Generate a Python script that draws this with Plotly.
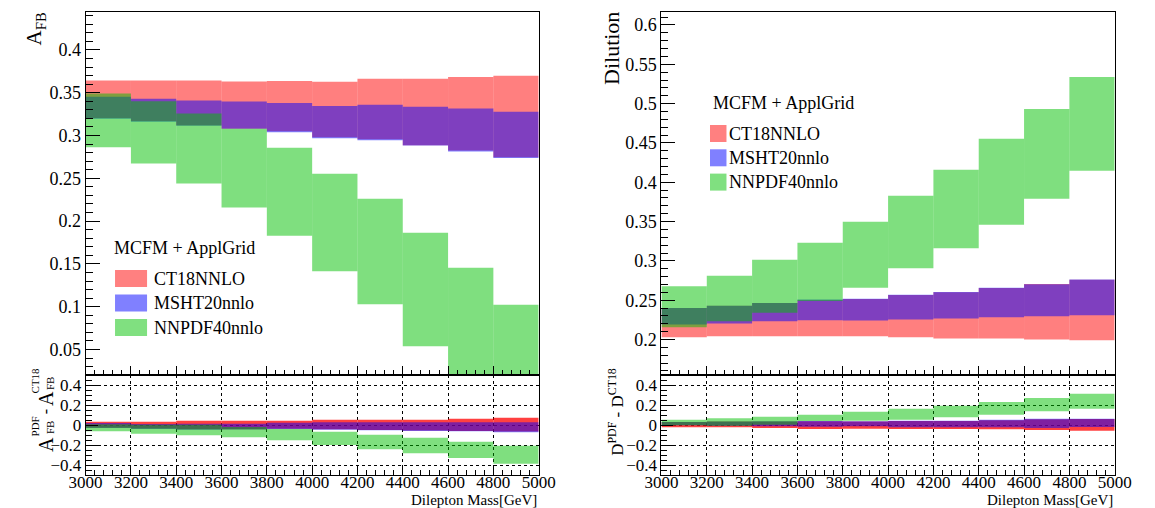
import plotly.graph_objects as go

# ---------------- data ----------------
mass_edges = [3000, 3200, 3400, 3600, 3800, 4000, 4200, 4400, 4600, 4800, 5000]
x_tick_labels = ["3000", "3200", "3400", "3600", "3800", "4000", "4200", "4400", "4600", "4800", "5000"]
pdf_names = ["CT18NNLO", "MSHT20nnlo", "NNPDF40nnlo"]

# A_FB bands (upper / lower edges)
afb_ct18_hi = [0.3644, 0.3644, 0.3644, 0.3632, 0.3638, 0.3627, 0.3662, 0.3662, 0.3685, 0.3697]
afb_ct18_lo = [0.3205, 0.3170, 0.3120, 0.3080, 0.3050, 0.2980, 0.2955, 0.2885, 0.2825, 0.2745]
afb_msht_hi = [0.3453, 0.3430, 0.3410, 0.3398, 0.3381, 0.3346, 0.3358, 0.3335, 0.3315, 0.3277]
afb_msht_lo = [0.3195, 0.3160, 0.3113, 0.3078, 0.3039, 0.2969, 0.2946, 0.2884, 0.2814, 0.2736]
afb_nnpdf_hi = [0.3490, 0.3400, 0.3257, 0.3078, 0.2857, 0.2553, 0.2261, 0.1865, 0.1456, 0.1024]
afb_nnpdf_lo = [0.2862, 0.2673, 0.2440, 0.2160, 0.1829, 0.1413, 0.1028, 0.0538, -0.0100, -0.0700]

# A_FB^PDF - A_FB^CT18
dafb_ct18_hi = [0.033, 0.033, 0.043, 0.043, 0.043, 0.053, 0.053, 0.053, 0.063, 0.073]
dafb_ct18_lo = [-0.028, -0.035, -0.042, -0.042, -0.037, -0.043, -0.050, -0.056, -0.060, -0.066]
dafb_msht_hi = [0.020, 0.010, 0.013, 0.013, 0.023, 0.027, 0.027, 0.027, 0.027, 0.027]
dafb_msht_lo = [-0.030, -0.040, -0.047, -0.045, -0.040, -0.047, -0.053, -0.060, -0.063, -0.073]
dafb_nnpdf_hi = [0.008, 0.003, 0.003, -0.020, -0.040, -0.067, -0.097, -0.127, -0.167, -0.207]
dafb_nnpdf_lo = [-0.063, -0.087, -0.103, -0.123, -0.153, -0.200, -0.243, -0.283, -0.330, -0.387]

# Dilution bands
dil_ct18_hi = [0.2402, 0.2431, 0.2466, 0.2500, 0.2515, 0.2565, 0.2600, 0.2655, 0.2705, 0.2760]
dil_ct18_lo = [0.2029, 0.2042, 0.2042, 0.2042, 0.2042, 0.2029, 0.2013, 0.2013, 0.2000, 0.1991]
dil_msht_hi = [0.2402, 0.2431, 0.2466, 0.2508, 0.2520, 0.2571, 0.2605, 0.2660, 0.2702, 0.2762]
dil_msht_lo = [0.2190, 0.2203, 0.2232, 0.2245, 0.2241, 0.2254, 0.2267, 0.2284, 0.2296, 0.2309]
dil_nnpdf_hi = [0.2677, 0.2812, 0.3016, 0.3232, 0.3498, 0.3828, 0.4159, 0.4552, 0.4933, 0.5340]
dil_nnpdf_lo = [0.2156, 0.2232, 0.2339, 0.2490, 0.2660, 0.2906, 0.3160, 0.3460, 0.3790, 0.4146]

# D^PDF - D^CT18
ddil_ct18_hi = [0.030, 0.035, 0.035, 0.037, 0.035, 0.040, 0.040, 0.048, 0.058, 0.060]
ddil_ct18_lo = [-0.023, -0.023, -0.030, -0.040, -0.037, -0.040, -0.040, -0.043, -0.050, -0.057]
ddil_msht_hi = [0.030, 0.035, 0.037, 0.040, 0.037, 0.043, 0.043, 0.053, 0.063, 0.063]
ddil_msht_lo = [-0.003, -0.007, -0.013, -0.017, -0.013, -0.023, -0.023, -0.023, -0.030, -0.020]
ddil_nnpdf_hi = [0.053, 0.067, 0.083, 0.103, 0.133, 0.163, 0.193, 0.230, 0.270, 0.313]
ddil_nnpdf_lo = [-0.003, -0.007, 0.003, 0.040, 0.043, 0.053, 0.077, 0.103, 0.137, 0.163]

# ---------------- style ----------------
W, H = 1155, 508
FONT = "Liberation Serif"
RED = "rgba(255,0,0,0.5)"
RED_R = "rgba(255,0,0,0.75)"
BLUE = "rgba(0,0,255,0.5)"
GREEN = "rgba(0,192,0,0.5)"
LEG_COLORS = ["#ff8080", "#8080ff", "#80e080"]

centers = [(a + b) / 2 for a, b in zip(mass_edges[:-1], mass_edges[1:])]
widths = [b - a for a, b in zip(mass_edges[:-1], mass_edges[1:])]


def px(p):
    return p / W


def py(p):
    return 1 - p / H


fig = go.Figure()


def band(lo, hi, color, xa, ya):
    fig.add_trace(go.Bar(
        x=centers, y=[h - l for h, l in zip(hi, lo)], base=lo, width=widths,
        marker=dict(color=color, line=dict(width=0)),
        xaxis=xa, yaxis=ya, showlegend=False, hoverinfo="skip"))


band(afb_ct18_lo, afb_ct18_hi, RED, "x", "y")
band(afb_msht_lo, afb_msht_hi, BLUE, "x", "y")
band(afb_nnpdf_lo, afb_nnpdf_hi, GREEN, "x", "y")
band(dafb_ct18_lo, dafb_ct18_hi, RED_R, "x2", "y2")
band(dafb_msht_lo, dafb_msht_hi, BLUE, "x2", "y2")
band(dafb_nnpdf_lo, dafb_nnpdf_hi, GREEN, "x2", "y2")
band(dil_ct18_lo, dil_ct18_hi, RED, "x3", "y3")
band(dil_msht_lo, dil_msht_hi, BLUE, "x3", "y3")
band(dil_nnpdf_lo, dil_nnpdf_hi, GREEN, "x3", "y3")
band(ddil_ct18_lo, ddil_ct18_hi, RED_R, "x4", "y4")
band(ddil_msht_lo, ddil_msht_hi, BLUE, "x4", "y4")
band(ddil_nnpdf_lo, ddil_nnpdf_hi, GREEN, "x4", "y4")

# invisible carriers for the tick-label axes
for xa, ya in (("x5", "y2"), ("x6", "y4")):
    fig.add_trace(go.Scatter(x=[mass_edges[0]], y=[0], mode="markers", marker=dict(opacity=0),
                             xaxis=xa, yaxis=ya, showlegend=False, hoverinfo="skip"))

L_DOM = [px(70.7), px(537.5)]
R_DOM = [px(664), px(1131)]
TOP_DOM = [py(375), py(12)]
RAT_DOM = [py(475), py(375)]


def xaxis(domain, anchor, grid):
    d = dict(domain=domain, anchor=anchor, range=[mass_edges[0], mass_edges[-1]],
             showline=True, linecolor="black", linewidth=1, mirror=True,
             ticks="inside", ticklen=9, tickcolor="black", tickwidth=1,
             tickvals=mass_edges, ticktext=x_tick_labels,
             minor=dict(ticks="inside", ticklen=5, dtick=40, tickcolor="black", showgrid=False),
             zeroline=False, showticklabels=False)
    if grid:
        d.update(showgrid=True, gridcolor="black", griddash="dot", gridwidth=1)
    else:
        d.update(showgrid=False)
    return d


def label_axis(domain, over):
    return dict(domain=domain, overlaying=over, anchor="free", position=py(470), side="bottom",
                range=[mass_edges[0], mass_edges[-1]], showline=False, ticks="",
                showgrid=False, zeroline=False, tickvals=mass_edges, ticktext=x_tick_labels,
                tickfont=dict(family=FONT, size=17, color="black"))


def yaxis(domain, anchor, rng, dtick, minor, ticklen, size, grid):
    d = dict(domain=domain, anchor=anchor, range=rng,
             showline=True, linecolor="black", linewidth=1, mirror=True,
             ticks="inside", ticklen=ticklen, tickcolor="black", tickwidth=1,
             tick0=0, dtick=dtick,
             minor=dict(ticks="inside", ticklen=ticklen // 2, dtick=minor, tickcolor="black", showgrid=False),
             zeroline=False, tickfont=dict(family=FONT, size=size, color="black"))
    if grid:
        d.update(showgrid=True, gridcolor="black", griddash="dot", gridwidth=1)
    else:
        d.update(showgrid=False)
    return d


fig.update_layout(
    width=W, height=H, margin=dict(l=0, r=0, t=0, b=0),
    paper_bgcolor="white", plot_bgcolor="white", barmode="overlay",
    showlegend=False, font=dict(family=FONT, color="black"),
    xaxis=xaxis(L_DOM, "y", False),
    yaxis=yaxis(TOP_DOM, "x", [0.0202, 0.4443], 0.05, 0.01, 14, 18, False),
    xaxis2=xaxis(L_DOM, "y2", True),
    yaxis2=yaxis(RAT_DOM, "x2", [-0.5, 0.5], 0.2, 0.05, 12, 17, True),
    xaxis3=xaxis(R_DOM, "y3", False),
    yaxis3=yaxis(TOP_DOM, "x3", [0.1549, 0.6165], 0.05, 0.01, 14, 18, False),
    xaxis4=xaxis(R_DOM, "y4", True),
    yaxis4=yaxis(RAT_DOM, "x4", [-0.5, 0.5], 0.2, 0.05, 12, 17, True),
    xaxis5=label_axis(L_DOM, "x2"),
    xaxis6=label_axis(R_DOM, "x4"),
)

ann = []


def text(x, y, s, size, xanchor="center", yanchor="middle", angle=0):
    ann.append(dict(x=px(x), y=py(y), xref="paper", yref="paper", text=s, showarrow=False,
                    xanchor=xanchor, yanchor=yanchor, textangle=angle,
                    font=dict(family=FONT, size=size, color="black")))


# axis titles
text(19, 29, "A<sub>FB</sub>", 21, angle=-90)
text(612, 48, "Dilution", 22, angle=-90)
text(538, 500, "Dilepton Mass[GeV]", 15, xanchor="right")
text(1131, 500, "Dilepton Mass[GeV]", 15, xanchor="right")

# ratio titles (stacked super/subscripts)
text(30, 445, "A", 20, angle=-90)
text(19, 426, "PDF", 11, angle=-90)
text(34, 427, "FB", 11, angle=-90)
text(29, 412, "-", 16, angle=-90)
text(30, 399, "A", 20, angle=-90)
text(19, 380, "CT18", 11, angle=-90)
text(34, 383, "FB", 11, angle=-90)
text(617, 412, "D<sup>PDF</sup> - D<sup>CT18</sup>", 17, angle=-90)

# legends
shapes = []
text(98, 248, "MCFM + ApplGrid", 18, xanchor="left")
for i, (name, col) in enumerate(zip(pdf_names, LEG_COLORS)):
    y0 = 270 + i * 24.5
    shapes.append(dict(type="rect", xref="paper", yref="paper", x0=px(101), x1=px(134),
                       y0=py(y0), y1=py(y0 + 17), fillcolor=col, line=dict(width=0)))
    text(139, y0 + 8.5, name, 18, xanchor="left")

text(715, 103, "MCFM + ApplGrid", 18, xanchor="left")
for i, (name, col) in enumerate(zip(pdf_names, LEG_COLORS)):
    y0 = 125 + i * 24.3
    shapes.append(dict(type="rect", xref="paper", yref="paper", x0=px(714), x1=px(731),
                       y0=py(y0), y1=py(y0 + 17), fillcolor=col, line=dict(width=0)))
    text(732, y0 + 8.5, name, 18, xanchor="left")

fig.update_layout(annotations=ann, shapes=shapes)
fig.write_html("out.html", config={"displayModeBar": False},
               post_script="document.body.style.margin='0';")
